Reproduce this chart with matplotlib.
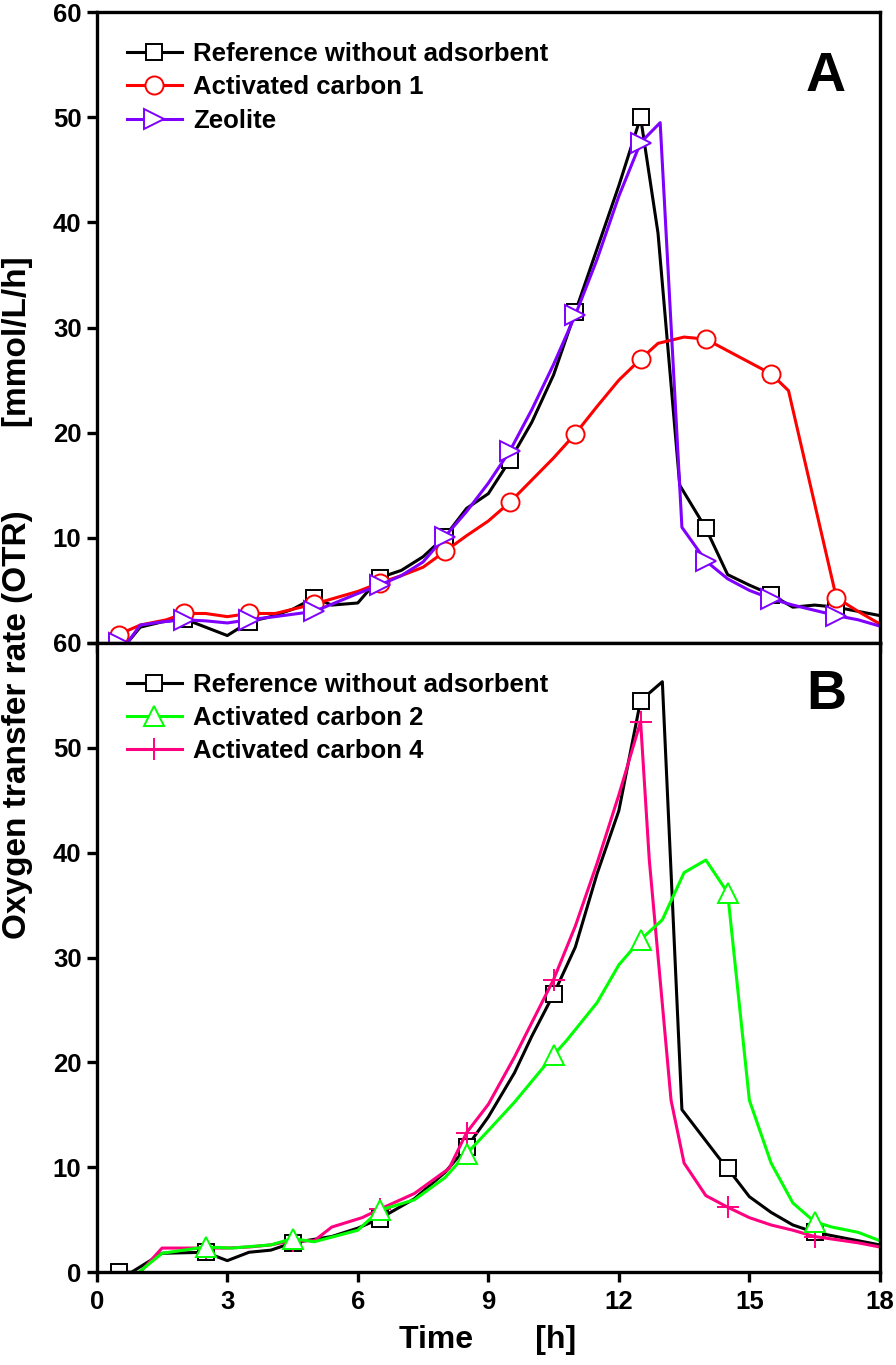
import matplotlib

matplotlib.use("Agg")
import matplotlib.pyplot as plt  # noqa: E402

plt.rcParams["font.family"] = ["Liberation Sans", "DejaVu Sans"]
plt.rcParams["font.weight"] = "bold"

# ---- panel A -------------------------------------------------------------
ref_a_t = [0.5, 0.7, 1.0, 1.5, 2.0, 2.5, 3.0, 3.5, 4.0, 4.5, 5.0, 5.4, 6.0, 6.5,
           7.0, 7.5, 8.0, 8.5, 9.0, 9.5, 10.0, 10.5, 11.0, 11.5, 12.0, 12.5,
           12.9, 13.4, 14.0, 14.5, 15.0, 15.5, 16.0, 16.5, 17.0, 17.5, 18.0]
ref_a_y = [0.0, 0.0, 1.5, 2.0, 2.3, 1.5, 0.7, 2.0, 2.5, 3.2, 4.3, 3.6, 3.8, 6.2,
           6.9, 8.2, 10.1, 12.8, 14.2, 17.4, 21.0, 25.5, 31.5, 37.5, 43.5, 50.0,
           39.0, 15.0, 10.9, 6.5, 5.5, 4.6, 3.4, 3.6, 3.4, 3.0, 2.6]
ref_a_marks = [0.5, 2.0, 3.5, 5.0, 6.5, 8.0, 9.5, 11.0, 12.5, 14.0, 15.5, 17.0]

ac1_t = [0.5, 1.0, 1.6, 2.0, 2.5, 3.0, 3.5, 4.1, 5.0, 5.5, 6.0, 6.5, 7.0, 7.5,
         8.0, 8.5, 9.0, 9.5, 10.0, 10.5, 11.0, 11.5, 12.0, 12.5, 12.9, 13.5,
         14.0, 14.5, 15.0, 15.5, 15.9, 17.0, 17.5, 18.0]
ac1_y = [0.8, 1.7, 2.2, 2.8, 2.8, 2.5, 2.8, 2.8, 3.7, 4.3, 4.9, 5.7, 6.4, 7.2,
         8.7, 10.2, 11.6, 13.4, 15.5, 17.6, 19.9, 22.5, 25.0, 27.0, 28.5, 29.1,
         28.9, 27.8, 26.7, 25.6, 24.0, 4.3, 3.0, 1.8]
ac1_marks = [0.5, 2.0, 3.5, 5.0, 6.5, 8.0, 9.5, 11.0, 12.5, 14.0, 15.5, 17.0]

zeo_t = [0.5, 0.7, 1.0, 1.5, 2.0, 2.5, 3.0, 3.5, 4.1, 5.0, 6.0, 6.5, 7.0, 7.5,
         8.0, 8.5, 9.0, 9.5, 10.0, 10.5, 11.0, 11.5, 12.0, 12.5, 12.95, 13.45,
         14.0, 14.5, 15.0, 15.5, 16.0, 16.5, 17.0, 17.5, 18.0]
zeo_y = [0.0, 0.0, 1.7, 2.0, 2.2, 2.1, 1.9, 2.2, 2.5, 3.0, 4.7, 5.5, 6.4, 7.7,
         10.1, 12.5, 15.2, 18.3, 22.2, 26.5, 31.2, 36.5, 42.5, 47.6, 49.5, 11.0,
         7.8, 6.1, 5.0, 4.2, 3.6, 3.1, 2.6, 2.2, 1.6]
zeo_marks = [0.5, 2.0, 3.5, 5.0, 6.5, 8.0, 9.5, 11.0, 12.5, 14.0, 15.5, 17.0]

# ---- panel B -------------------------------------------------------------
ref_b_t = [0.5, 0.8, 1.5, 2.5, 3.0, 3.5, 4.0, 4.5, 5.4, 6.0, 6.5, 7.3, 8.0, 8.5,
           9.0, 9.6, 10.0, 10.5, 11.0, 11.5, 12.0, 12.5, 13.0, 13.45, 14.3,
           14.5, 15.0, 15.5, 16.0, 16.5, 17.0, 17.5, 18.0]
ref_b_y = [0.0, 0.0, 1.8, 1.9, 1.1, 1.9, 2.1, 2.8, 3.4, 4.2, 5.1, 7.0, 9.5, 11.9,
           14.8, 19.0, 22.5, 26.5, 31.0, 38.0, 44.0, 54.5, 56.3, 15.5, 10.9,
           9.9, 7.2, 5.7, 4.5, 3.8, 3.4, 3.0, 2.6]
ref_b_marks = [0.5, 2.5, 4.5, 6.5, 8.5, 10.5, 12.5, 14.5, 16.5]

ac2_t = [0.97, 1.5, 2.5, 3.1, 4.0, 4.5, 5.0, 6.0, 6.5, 7.3, 8.0, 8.5, 9.0, 9.6,
         10.0, 10.5, 10.8, 11.5, 12.0, 12.5, 13.0, 13.5, 14.0, 14.5, 15.0, 15.5,
         16.0, 16.5, 16.9, 17.5, 18.0]
ac2_y = [0.0, 1.8, 2.4, 2.3, 2.6, 3.2, 2.9, 4.0, 5.9, 6.9, 9.0, 11.3, 13.5, 16.2,
         18.2, 20.7, 22.1, 25.7, 29.3, 31.7, 33.6, 38.1, 39.3, 36.2, 16.4, 10.4,
         6.6, 4.8, 4.3, 3.8, 3.0]
ac2_marks = [2.5, 4.5, 6.5, 8.5, 10.5, 12.5, 14.5, 16.5]

ac4_t = [1.0, 1.5, 2.5, 3.0, 3.5, 4.0, 4.5, 5.0, 5.4, 6.1, 6.5, 7.3, 8.1, 8.5,
         9.0, 9.6, 10.0, 10.5, 11.0, 11.5, 12.0, 12.5, 12.7, 13.2, 13.5, 14.0,
         14.5, 15.0, 15.5, 16.0, 16.5, 17.0, 17.5, 18.0]
ac4_y = [0.0, 2.3, 2.3, 2.3, 2.4, 2.6, 3.0, 3.0, 4.3, 5.2, 6.0, 7.5, 9.9, 13.3,
         16.0, 20.5, 23.8, 27.9, 33.0, 39.0, 45.5, 52.5, 39.3, 16.4, 10.4, 7.3,
         6.2, 5.2, 4.5, 4.0, 3.4, 3.1, 2.8, 2.4]
ac4_marks = [2.5, 4.5, 6.5, 8.5, 10.5, 12.5, 14.5, 16.5]

x_ticks = [0, 3, 6, 9, 12, 15, 18]
y_ticks = [0, 10, 20, 30, 40, 50, 60]

PURPLE = "#7f00ff"
GREEN = "#00ff00"
PINK = "#ff0080"
LEG = dict(loc="upper left", frameon=False, fontsize=18.5, handlelength=2.15,
           handletextpad=0.45, labelspacing=0.36, borderaxespad=0.0,
           bbox_to_anchor=(0.025, 0.969))


def series(ax, t, y, marks, color, marker, ms, label, mfc="white"):
    idx = [t.index(m) for m in marks]
    (ln,) = ax.plot(t, y, color=color, lw=2.2, marker=marker, ms=ms,
                    mfc=mfc, mec=color, mew=1.4, markevery=idx, label=label)
    return ln


def style(ax):
    ax.set_xlim(0, 18)
    ax.set_ylim(0, 60)
    ax.set_xticks(x_ticks)
    ax.set_yticks(y_ticks)
    for s in ax.spines.values():
        s.set_linewidth(2.4)
    ax.tick_params(direction="out", length=7, width=2.4, labelsize=18.5, pad=4)


fig = plt.figure(figsize=(8.96, 13.65), dpi=100)
ax_a = fig.add_axes([0.108, 0.529, 0.874, 0.462])
ax_b = fig.add_axes([0.108, 0.068, 0.874, 0.461])

# panel A
la1 = series(ax_a, ref_a_t, ref_a_y, ref_a_marks, "black", "s", 12,
             "Reference without adsorbent")
la2 = series(ax_a, ac1_t, ac1_y, ac1_marks, "red", "o", 13, "Activated carbon 1")
la3 = series(ax_a, zeo_t, zeo_y, zeo_marks, PURPLE, ">", 14, "Zeolite")
style(ax_a)
ax_a.set_xticklabels([])
ax_a.set_yticklabels([""] + [str(v) for v in y_ticks[1:]])
ax_a.legend(handles=[la1, la2, la3], **LEG)
ax_a.text(0.931, 0.897, "A", transform=ax_a.transAxes, fontsize=40,
          fontweight="bold", ha="center", va="center")

# panel B
lb1 = series(ax_b, ref_b_t, ref_b_y, ref_b_marks, "black", "s", 12,
             "Reference without adsorbent")
lb3 = series(ax_b, ac4_t, ac4_y, ac4_marks, PINK, "+", 16, "Activated carbon 4")
lb2 = series(ax_b, ac2_t, ac2_y, ac2_marks, GREEN, "^", 15, "Activated carbon 2")
style(ax_b)
ax_b.tick_params(axis="x", pad=6)
ax_b.legend(handles=[lb1, lb2, lb3], **LEG)
ax_b.text(0.931, 0.917, "B", transform=ax_b.transAxes, fontsize=40,
          fontweight="bold", ha="center", va="center")

fig.text(0.019, 0.562, "Oxygen transfer rate (OTR)         [mmol/L/h]",
         rotation=90, ha="center", va="center", fontsize=24, fontweight="bold")
fig.text(0.544, 0.018, "Time       [h]", ha="center", va="center",
         fontsize=23, fontweight="bold")

fig.savefig("out.png", dpi=100)
